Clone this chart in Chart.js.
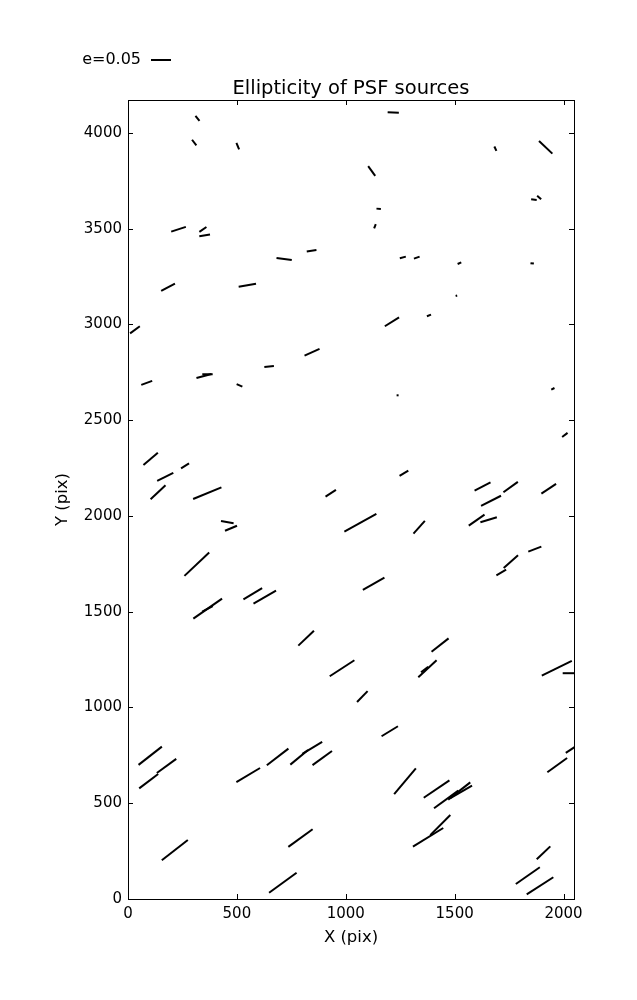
<!DOCTYPE html>
<html>
<head>
<meta charset="utf-8">
<script src="https://cdn.jsdelivr.net/npm/chart.js@4"></script>
<style>
  html, body { margin: 0; padding: 0; background: #fff; }
  #wrap { width: 637px; height: 1000px; position: relative; }
</style>
</head>
<body>
<div id="wrap"><canvas id="c"></canvas></div>
<script>
// stick centres (detector pix), ellipticity, position angle (deg, ccw)
const xs = [319, 304, 504, 232, 344, 352, 717, 843, 184, 548,
  1218, 1687, 1918, 1119, 1151, 1134, 1864, 1888, 1262, 1326,
  1522, 1856, 1508, 32, 845, 648, 86, 349, 365, 512,
  1212, 1382, 1238, 1951, 2006, 104, 262, 171, 138, 364,
  931, 1267, 1628, 1757, 1932, 1667, 456, 473, 1067, 1337,
  1601, 1656, 1868, 1758, 1714, 316, 366, 365, 573, 628,
  1128, 818, 1433, 983, 1375, 1362, 1969, 2030, 1076, 1202,
  102, 95, 177, 552, 687, 786, 846, 892, 215, 792,
  711, 1272, 1417, 1461, 1521, 1530, 1378, 1434, 1908, 1836,
  1892, 1971, 2045];
const ys = [4076, 3950, 3931, 3497, 3496, 3465, 3342, 3385, 3194, 3205,
  4107, 3918, 3925, 3801, 3604, 3513, 3652, 3663, 3350, 3349,
  3320, 3319, 3150, 2972, 2855, 2781, 2695, 2731, 2740, 2682,
  3014, 3047, 2630, 2664, 2423, 2298, 2262, 2204, 2124, 2119,
  2119, 2223, 2154, 2151, 2142, 2079, 1968, 1936, 1965, 1941,
  1978, 1980, 1827, 1761, 1705, 1748, 1516, 1515, 1594, 1576,
  1646, 1362, 1326, 1205, 1202, 1198, 1205, 1179, 1057, 876,
  748, 615, 695, 647, 742, 740, 789, 736, 255, 318,
  85, 615, 574, 520, 564, 559, 322, 386, 241, 122,
  69, 699, 789];
const es = [0.016, 0.0175, 0.018, 0.0385, 0.0215, 0.027, 0.0385, 0.0245, 0.039, 0.044,
  0.028, 0.012, 0.046, 0.030, 0.011, 0.0115, 0.014, 0.0135, 0.0155, 0.015,
  0.010, 0.0085, 0.004, 0.030, 0.041, 0.024, 0.029, 0.039, 0.026, 0.0155,
  0.042, 0.011, 0.005, 0.009, 0.017, 0.047, 0.0235, 0.045, 0.051, 0.0765,
  0.031, 0.0255, 0.045, 0.0445, 0.044, 0.056, 0.032, 0.0325, 0.0915, 0.0425,
  0.048, 0.043, 0.035, 0.048, 0.028, 0.085, 0.0875, 0.030, 0.0545, 0.065,
  0.062, 0.054, 0.054, 0.0735, 0.0625, 0.0225, 0.0835, 0.037, 0.038, 0.048,
  0.074, 0.0595, 0.060, 0.069, 0.068, 0.0575, 0.058, 0.060, 0.0825, 0.075,
  0.085, 0.084, 0.0775, 0.075, 0.070, 0.0625, 0.089, 0.071, 0.047, 0.073,
  0.079, 0.061, 0.045];
const angles = [-51, -52, -68, 18, 35, 8.5, -7.4, 7.8, 28, 9.8,
  -2, -65, -43.5, -54, -4, 69, -7, -42, 15, 20,
  25, -7, 15, 36, 24, 6, 20, 15, 0, -23,
  32, 22, 0, 27, 37, 40, 32, 26.6, 43, 22.5,
  33, 31, 27.6, 36, 33.4, 27, -10, 22.6, 29, 48,
  35, 17, 21, 41.6, 30, 43.3, 34.9, 28, 31, 30,
  29.7, 43.7, 38, 33, 43, 37, 26, 0, 46, 31.4,
  38, 37, 36, 31, 37.5, 39.7, 31, 35.8, 38, 36,
  36, 49.8, 34, 36, 38, 30, 31.7, 45, 43.7, 34.8,
  32.6, 36, 33];

const xTicks = [0, 500, 1000, 1500, 2000];
const yTicks = [0, 500, 1000, 1500, 2000, 2500, 3000, 3500, 4000];
const keyE = 0.05;

const PX_PER_E = 400; // stick length scale
const FONT = "'DejaVu Sans', sans-serif";

const sticksPlugin = {
  id: "sticks",
  afterDatasetsDraw(chart) {
    const { ctx, chartArea: a, scales } = chart;
    ctx.save();
    ctx.beginPath();
    ctx.rect(a.left, a.top, a.right - a.left, a.bottom - a.top);
    ctx.clip();
    ctx.strokeStyle = "#000";
    ctx.lineWidth = 2;
    ctx.lineCap = "butt";
    for (let i = 0; i < xs.length; i++) {
      const cx = scales.x.getPixelForValue(xs[i]);
      const cy = scales.y.getPixelForValue(ys[i]);
      const h = es[i] * PX_PER_E / 2;
      const t = angles[i] * Math.PI / 180;
      const dx = Math.cos(t) * h, dy = -Math.sin(t) * h;
      ctx.beginPath();
      ctx.moveTo(cx - dx, cy - dy);
      ctx.lineTo(cx + dx, cy + dy);
      ctx.stroke();
    }
    ctx.restore();
  },
  afterDraw(chart) {
    const { ctx, chartArea: a, scales } = chart;
    ctx.save();
    // frame
    ctx.strokeStyle = "#000";
    ctx.lineWidth = 1;
    ctx.strokeRect(Math.round(a.left) + 0.5, Math.round(a.top) + 0.5,
      Math.round(a.right - a.left), Math.round(a.bottom - a.top));
    // inward ticks on all sides
    const tl = 5;
    ctx.beginPath();
    xTicks.forEach(v => {
      const p = Math.round(scales.x.getPixelForValue(v)) + 0.5;
      ctx.moveTo(p, a.bottom); ctx.lineTo(p, a.bottom - tl);
      ctx.moveTo(p, a.top); ctx.lineTo(p, a.top + tl);
    });
    yTicks.forEach(v => {
      const p = Math.round(scales.y.getPixelForValue(v)) + 0.5;
      ctx.moveTo(a.left, p); ctx.lineTo(a.left + tl, p);
      ctx.moveTo(a.right, p); ctx.lineTo(a.right - tl, p);
    });
    ctx.stroke();
    // title
    ctx.fillStyle = "#000";
    ctx.font = "19.5px " + FONT;
    ctx.textAlign = "center";
    ctx.textBaseline = "alphabetic";
    ctx.fillText("Ellipticity of PSF sources", (a.left + a.right) / 2, 94);
    // quiver key
    ctx.font = "16px " + FONT;
    ctx.textAlign = "right";
    ctx.textBaseline = "middle";
    ctx.fillText("e=" + keyE.toFixed(2), 141, 60);
    ctx.lineWidth = 2;
    ctx.beginPath();
    ctx.moveTo(151, 60);
    ctx.lineTo(151 + keyE * PX_PER_E, 60);
    ctx.stroke();
    ctx.restore();
  }
};

new Chart(document.getElementById("c"), {
  type: "scatter",
  data: {
    datasets: [{
      data: xs.map((x, i) => ({ x: x, y: ys[i] })),
      pointRadius: 0,
      pointHoverRadius: 0
    }]
  },
  options: {
    responsive: true,
    maintainAspectRatio: false,
    animation: false,
    events: [],
    layout: { padding: { left: 0, top: 100, right: 63, bottom: 0 } },
    plugins: {
      legend: { display: false },
      title: { display: false },
      tooltip: { enabled: false }
    },
    scales: {
      x: {
        type: "linear",
        min: 0,
        max: 2048,
        afterBuildTicks: s => { s.ticks = xTicks.map(v => ({ value: v })); },
        afterFit: s => { s.height = 101; },
        grid: { display: false, drawTicks: false },
        border: { display: false },
        ticks: {
          color: "#000", padding: 6, maxRotation: 0,
          font: { family: FONT, size: 15 },
          callback: v => String(v)
        },
        title: {
          display: true, text: "X (pix)", color: "#000",
          font: { family: FONT, size: 16.5 }, padding: { top: 0, bottom: 52 }
        }
      },
      y: {
        type: "linear",
        min: 0,
        max: 4172,
        afterBuildTicks: s => { s.ticks = yTicks.map(v => ({ value: v })); },
        afterFit: s => { s.width = 128; },
        grid: { display: false, drawTicks: false },
        border: { display: false },
        ticks: {
          color: "#000", padding: 6,
          font: { family: FONT, size: 15 },
          callback: v => String(v)
        },
        title: {
          display: true, text: "Y (pix)", color: "#000",
          font: { family: FONT, size: 16.5 }, padding: { top: 53, bottom: 0 }
        }
      }
    }
  },
  plugins: [sticksPlugin]
});
</script>
</body>
</html>
